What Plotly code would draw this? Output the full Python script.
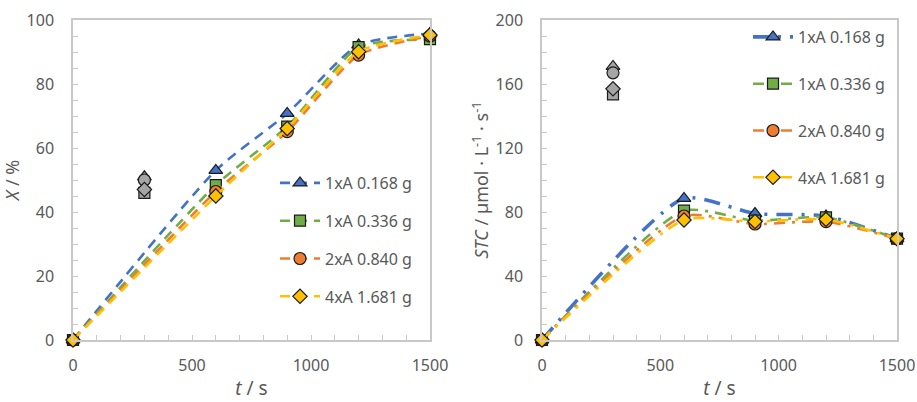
import plotly.graph_objects as go

# ---- data ----
names = ["1xA 0.168 g", "1xA 0.336 g", "2xA 0.840 g", "4xA 1.681 g"]
t_line = [0, 600, 900, 1200, 1500]
t_out = 300

X_vals = [
    [0, 53.0, 70.8, 92.2, 95.8],
    [0, 48.4, 66.7, 91.5, 94.0],
    [0, 46.4, 65.1, 89.0, 95.0],
    [0, 45.0, 66.1, 90.1, 95.3],
]
X_300 = [51.0, 46.0, 50.0, 47.0]

STC_vals = [
    [0, 88.5, 79.0, 77.5, 63.3],
    [0, 80.8, 74.6, 76.7, 63.3],
    [0, 77.5, 72.5, 74.0, 63.3],
    [0, 75.0, 74.0, 75.4, 63.3],
]
STC_300 = [171.0, 153.5, 167.0, 157.0]

colors = ["#4472C4", "#70AD47", "#ED7D31", "#FFC000"]
symbols = ["triangle-up", "square", "circle", "diamond"]
msizes = [12, 11, 12, 11]
gray = "#A5A5A5"
edge = "#1A1A1A"
txt = "#595959"
axc = "#C8C8C8"
FONT = "Noto Sans"
SMOOTH = 0.6

fig = go.Figure()

for i in range(4):
    fig.add_trace(go.Scatter(
        x=t_line, y=X_vals[i], name=names[i], mode="lines+markers",
        line=dict(color=colors[i], width=2.6, dash="10px,7px", shape="spline", smoothing=SMOOTH),
        marker=dict(symbol=symbols[i], size=msizes[i], color=colors[i], line=dict(color=edge, width=1.2)),
        xaxis="x", yaxis="y", legend="legend", legendgroup=f"L{i}", cliponaxis=False,
    ))
for i in range(4):
    fig.add_trace(go.Scatter(
        x=[t_out], y=[X_300[i]], mode="markers", showlegend=False,
        marker=dict(symbol=symbols[i], size=msizes[i], color=gray, line=dict(color=edge, width=1.2)),
        xaxis="x", yaxis="y", cliponaxis=False,
    ))
for i in range(4):
    fig.add_trace(go.Scatter(
        x=t_line, y=STC_vals[i], name=names[i], mode="lines+markers",
        line=dict(color=colors[i], width=3.6 if i == 0 else 2.6,
                  dash="16px,9px,3px,9px" if i == 0 else "11px,7px,3px,7px",
                  shape="spline", smoothing=SMOOTH),
        marker=dict(symbol=symbols[i], size=msizes[i], color=colors[i], line=dict(color=edge, width=1.2)),
        xaxis="x2", yaxis="y2", legend="legend2", legendgroup=f"R{i}", cliponaxis=False,
    ))
for i in range(4):
    fig.add_trace(go.Scatter(
        x=[t_out], y=[STC_300[i]], mode="markers", showlegend=False,
        marker=dict(symbol=symbols[i], size=msizes[i], color=gray, line=dict(color=edge, width=1.2)),
        xaxis="x2", yaxis="y2", cliponaxis=False,
    ))

W, H = 917, 402
ydom = [(H - 340) / H, (H - 20) / H]

def xax(domain):
    return dict(
        domain=domain, range=[0, 1500], dtick=500, tick0=0,
        showline=True, linecolor=axc, linewidth=1.5, mirror=True,
        ticks="inside", ticklen=5, tickcolor=axc, tickwidth=1.2,
        minor=dict(dtick=100, ticks="inside", ticklen=5, tickcolor=axc, tickwidth=1.2),
        showgrid=False, zeroline=False, automargin=False,
        tickfont=dict(family=FONT, size=16, color=txt), ticklabelstandoff=10,
        title=dict(text="<i>t</i> / s", font=dict(family=FONT, size=19, color=txt), standoff=7),
    )

def yax(rng, dtick, minor, title, anchor, standoff):
    return dict(
        domain=ydom, range=rng, dtick=dtick, tick0=0, anchor=anchor,
        showline=True, linecolor=axc, linewidth=1.5, mirror=True,
        ticks="inside", ticklen=5, tickcolor=axc, tickwidth=1.2,
        minor=dict(dtick=minor, ticks="inside", ticklen=5, tickcolor=axc, tickwidth=1.2),
        showgrid=False, zeroline=False, automargin=False,
        tickfont=dict(family=FONT, size=16, color=txt), ticklabelstandoff=14,
        title=dict(text=title, font=dict(family=FONT, size=18, color=txt), standoff=standoff),
    )

fig.update_layout(
    width=W, height=H,
    margin=dict(l=0, r=0, t=0, b=0),
    paper_bgcolor="white", plot_bgcolor="white",
    font=dict(family=FONT, color=txt),
    xaxis=dict(**xax([73 / W, 430 / W]), anchor="y"),
    yaxis=yax([0, 100], 20, 5, "<i>X</i> / %", "x", 2),
    xaxis2=dict(**xax([542 / W, 897 / W]), anchor="y2"),
    yaxis2=yax([0, 200], 40, 10, "<i>STC</i> / µmol · L<sup>-1</sup> · s<sup>-1</sup>", "x2", 2),
    legend=dict(x=275 / W, y=(H - 166) / H, xanchor="left", yanchor="top",
                font=dict(family=FONT, size=16, color=txt), bgcolor="rgba(0,0,0,0)",
                tracegroupgap=14, traceorder="grouped", itemwidth=40),
    legend2=dict(x=748 / W, y=(H - 20) / H, xanchor="left", yanchor="top",
                 font=dict(family=FONT, size=16, color=txt), bgcolor="rgba(0,0,0,0)",
                 tracegroupgap=23, traceorder="grouped", itemwidth=40),
)

fig.write_html("out.html")
